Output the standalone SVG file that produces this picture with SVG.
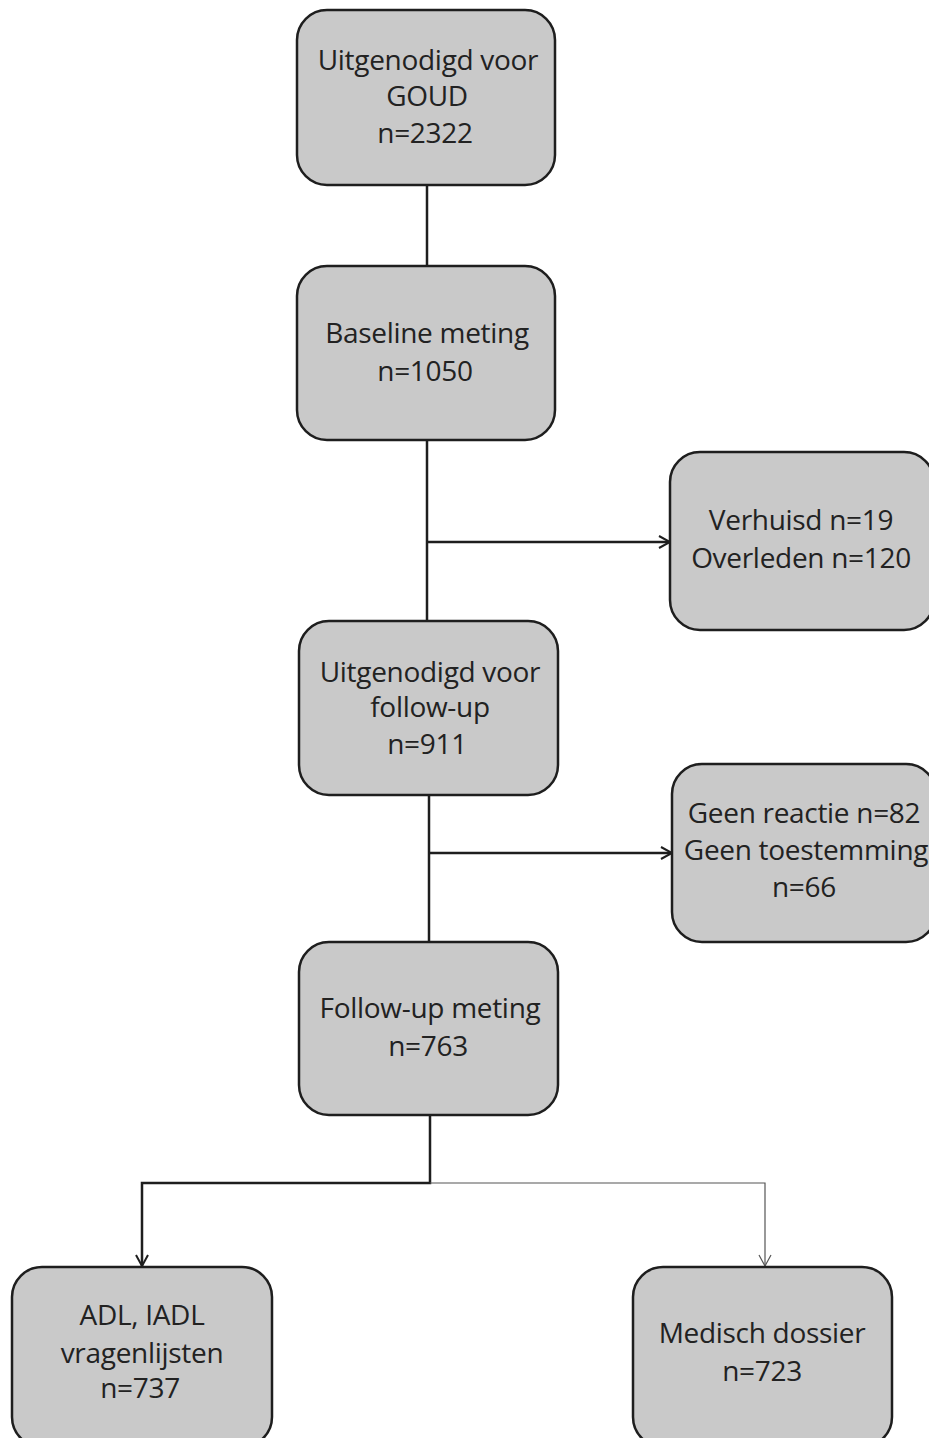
<svg xmlns="http://www.w3.org/2000/svg" width="929" height="1438" viewBox="0 0 929 1438">
<defs>
<style>
.box{fill:#c9c9c9;stroke:#1e1e1e;stroke-width:2.5}
.t{font-family:"Open Sans","Liberation Sans",sans-serif;font-size:28px;fill:#222;text-anchor:middle;letter-spacing:-0.3px}
.c{fill:none;stroke:#1e1e1e;stroke-width:2.5}
.thin{fill:none;stroke:#555;stroke-width:1.2}
</style>
<marker id="arr" markerWidth="14" markerHeight="14" refX="12" refY="7" orient="auto" markerUnits="userSpaceOnUse">
<path d="M1,1 L12,7 L1,13" fill="none" stroke="#1e1e1e" stroke-width="2"/>
</marker>
<marker id="arrt" markerWidth="14" markerHeight="14" refX="12" refY="7" orient="auto" markerUnits="userSpaceOnUse">
<path d="M1,1 L12,7 L1,13" fill="none" stroke="#555" stroke-width="1.2"/>
</marker>
</defs>
<rect width="929" height="1438" fill="#fff"/>
<g id="connectors">
<path class="c" d="M427,185 V265"/>
<path class="c" d="M427,440 V620"/>
<path class="c" d="M427,542 H670" marker-end="url(#arr)"/>
<path class="c" d="M429,795 V942"/>
<path class="c" d="M429,853 H672" marker-end="url(#arr)"/>
<path class="c" d="M430,1115 V1183 H142 V1266" marker-end="url(#arr)"/>
<path class="thin" d="M430,1183 H765 V1266" marker-end="url(#arrt)"/>
</g>
<g id="n1"><rect class="box" x="297" y="10" width="258" height="175" rx="30"/>
<text class="t" x="428" y="70">Uitgenodigd voor</text><text class="t" x="427" y="106">GOUD</text><text class="t" x="425" y="143">n=2322</text></g>
<g id="n2"><rect class="box" x="297" y="266" width="258" height="174" rx="30"/>
<text class="t" x="427" y="343">Baseline meting</text><text class="t" x="425" y="381">n=1050</text></g>
<g id="n3"><rect class="box" x="670" y="452" width="264" height="178" rx="30"/>
<text class="t" x="801" y="530">Verhuisd n=19</text><text class="t" x="801" y="568">Overleden n=120</text></g>
<g id="n4"><rect class="box" x="299" y="621" width="259" height="174" rx="30"/>
<text class="t" x="430" y="682">Uitgenodigd voor</text><text class="t" x="430" y="717">follow-up</text><text class="t" x="427" y="754">n=911</text></g>
<g id="n5"><rect class="box" x="672" y="764" width="264" height="178" rx="30"/>
<text class="t" x="804" y="823">Geen reactie n=82</text><text class="t" x="806" y="860">Geen toestemming</text><text class="t" x="804" y="897">n=66</text></g>
<g id="n6"><rect class="box" x="299" y="942" width="259" height="173" rx="30"/>
<text class="t" x="430" y="1018">Follow-up meting</text><text class="t" x="428" y="1056">n=763</text></g>
<g id="n7"><rect class="box" x="12" y="1267" width="260" height="180" rx="30"/>
<text class="t" x="142" y="1325">ADL, IADL</text><text class="t" x="142" y="1363">vragenlijsten</text><text class="t" x="140" y="1398">n=737</text></g>
<g id="n8"><rect class="box" x="633" y="1267" width="259" height="180" rx="30"/>
<text class="t" x="762" y="1343">Medisch dossier</text><text class="t" x="762" y="1381">n=723</text></g>
</svg>
